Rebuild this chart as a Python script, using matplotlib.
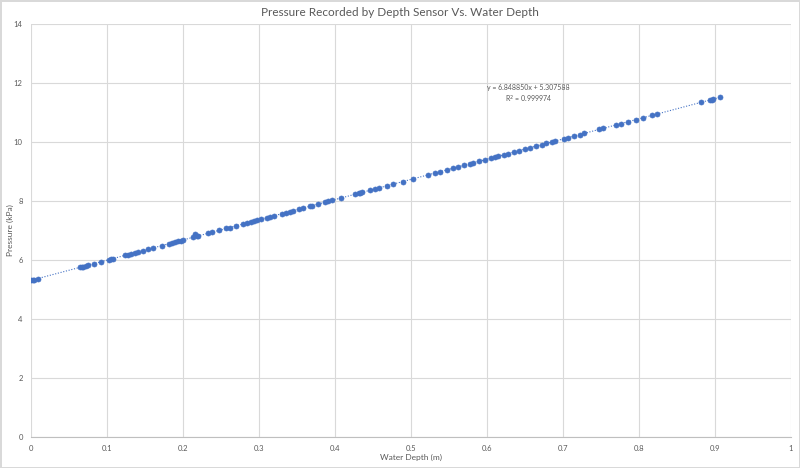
import numpy as np
import matplotlib
matplotlib.use("Agg")
import matplotlib.pyplot as plt

# Water depth (m) vs pressure (kPa)
depth = [0.000, 0.002, 0.004, 0.009, 0.064, 0.067, 0.069, 0.072, 0.075, 0.083,
         0.092, 0.102, 0.105, 0.108, 0.124, 0.128, 0.132, 0.137, 0.141, 0.148,
         0.154, 0.160, 0.172, 0.182, 0.185, 0.190, 0.194, 0.198, 0.200, 0.213,
         0.216, 0.218, 0.220, 0.233, 0.238, 0.248, 0.257, 0.262, 0.270, 0.279,
         0.284, 0.290, 0.294, 0.298, 0.303, 0.310, 0.314, 0.320, 0.330, 0.336,
         0.341, 0.345, 0.352, 0.358, 0.367, 0.370, 0.378, 0.387, 0.391, 0.396,
         0.408, 0.426, 0.431, 0.433, 0.436, 0.446, 0.453, 0.458, 0.468, 0.476,
         0.490, 0.503, 0.522, 0.532, 0.538, 0.547, 0.555, 0.562, 0.570, 0.577,
         0.582, 0.590, 0.598, 0.605, 0.610, 0.615, 0.622, 0.628, 0.635, 0.642,
         0.650, 0.657, 0.665, 0.672, 0.678, 0.685, 0.689, 0.701, 0.706, 0.714,
         0.722, 0.728, 0.748, 0.752, 0.770, 0.776, 0.786, 0.796, 0.805, 0.817,
         0.824, 0.882, 0.893, 0.896, 0.898, 0.906]
pressure = [5.31, 5.32, 5.33, 5.37, 5.75, 5.77, 5.78, 5.80, 5.82, 5.88,
            5.94, 6.01, 6.03, 6.05, 6.16, 6.18, 6.21, 6.25, 6.27, 6.32,
            6.36, 6.40, 6.49, 6.55, 6.57, 6.61, 6.64, 6.66, 6.68, 6.77,
            6.88, 6.83, 6.81, 6.90, 6.94, 7.01, 7.07, 7.10, 7.16, 7.22,
            7.25, 7.29, 7.32, 7.35, 7.38, 7.43, 7.46, 7.50, 7.57, 7.61,
            7.64, 7.67, 7.72, 7.76, 7.82, 7.84, 7.90, 7.96, 7.99, 8.02,
            8.10, 8.23, 8.26, 8.27, 8.29, 8.36, 8.41, 8.44, 8.51, 8.57,
            8.66, 8.75, 8.88, 8.95, 8.99, 9.05, 9.11, 9.16, 9.21, 9.26,
            9.29, 9.35, 9.40, 9.45, 9.49, 9.52, 9.57, 9.61, 9.66, 9.71,
            9.76, 9.81, 9.86, 9.91, 9.95, 10.00, 10.03, 10.11, 10.14, 10.20,
            10.25, 10.29, 10.43, 10.46, 10.58, 10.62, 10.69, 10.76, 10.82, 10.90,
            10.95, 11.35, 11.42, 11.44, 11.46, 11.51]

title = "Pressure Recorded by Depth Sensor Vs. Water Depth"
eq_text = "y = 6.848850x + 5.307588\nR$^2$ = 0.999974"

plt.rcParams['font.family'] = ['Lato', 'DejaVu Sans']
grey = '#595959'
blue = '#4472C4'

fig = plt.figure(figsize=(8, 4.68), dpi=100)
fig.patch.set_edgecolor('#d9d9d9')
fig.patch.set_linewidth(1.0)
ax = fig.add_axes([0.03875, 0.0662, 0.95, 0.8825])

x = np.array(depth)
y = np.array(pressure)

# linear trendline over the data range
slope, intercept = np.polyfit(x, y, 1)
xs = np.array([x.min(), x.max()])
ax.plot(xs, slope * xs + intercept, linestyle=(0, (1, 1.5)), color=blue,
        linewidth=0.8, zorder=2)
ax.scatter(x, y, s=13, color=blue, edgecolors=blue, linewidths=0.5, zorder=3)

ax.set_xlim(0, 1)
ax.set_ylim(0, 14)
ax.set_xticks(np.arange(0, 1.01, 0.1))
ax.set_xticklabels(['0', '0.1', '0.2', '0.3', '0.4', '0.5', '0.6', '0.7', '0.8', '0.9', '1'])
ax.set_yticks(np.arange(0, 15, 2))
ax.grid(True, color='#d9d9d9', linewidth=0.8)
ax.set_axisbelow(True)
for side in ['top', 'right', 'left']:
    ax.spines[side].set_visible(False)
ax.spines['bottom'].set_color('#bfbfbf')
ax.tick_params(length=0, labelsize=5.5, colors=grey, pad=6)

ax.set_xlabel('Water Depth (m)', fontsize=6, color=grey, labelpad=1)
ax.set_ylabel('Pressure (kPa)', fontsize=6, color=grey, labelpad=0)
ax.yaxis.set_label_coords(-0.022, 0.5)
fig.text(0.5, 0.974, title, ha='center', va='center', fontsize=8.5, color=grey)
ax.text(0.655, 11.25, eq_text, ha='center', va='bottom', fontsize=5,
        color=grey, linespacing=1.3)

fig.savefig('out.png', dpi=100)
